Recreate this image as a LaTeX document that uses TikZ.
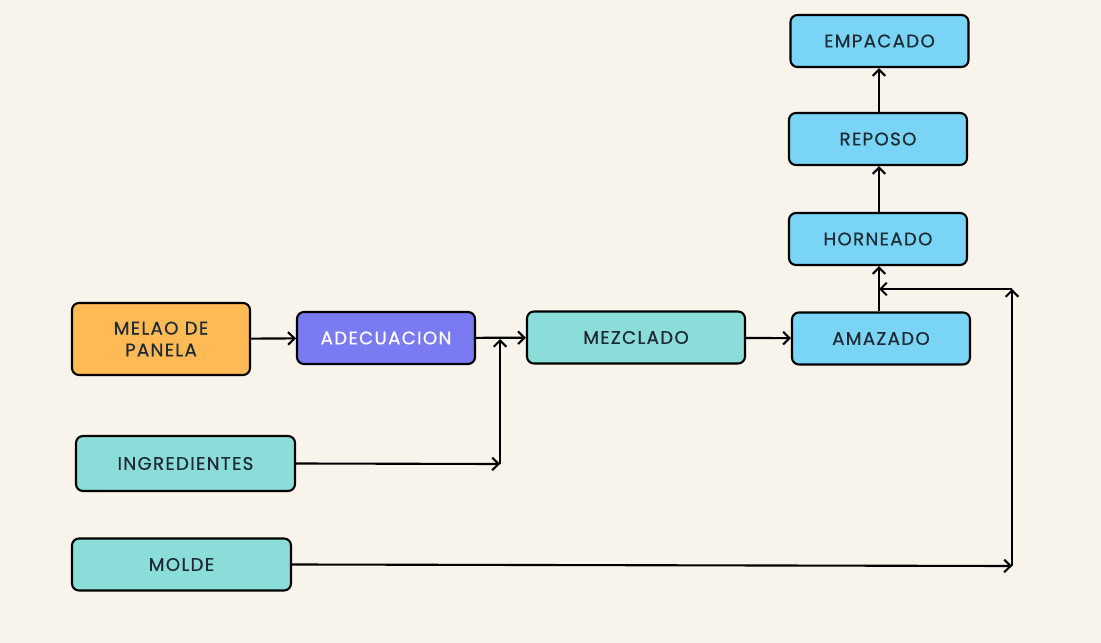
\documentclass[tikz,border=0pt]{standalone}
\usepackage{fontspec}
\setmainfont{Poppins}[LetterSpace=7, FakeBold=0.6]
\usepackage{tikz}
\usetikzlibrary{arrows.meta}
\definecolor{fondo}{HTML}{F8F4EC}
\definecolor{naranja}{HTML}{FFBA55}
\definecolor{morado}{HTML}{7A7BF2}
\definecolor{turquesa}{HTML}{8BDDD9}
\definecolor{celeste}{HTML}{79D4F5}
\definecolor{tinta}{HTML}{1E2B33}

\begin{document}
\begin{tikzpicture}[x=0.025cm, y=-0.025cm,
    caja/.style={draw=black, line width=1.5pt, rounded corners=5pt,
        minimum width=4.45cm, minimum height=1.3cm, align=center,
        font=\fontsize{13}{15.5}\selectfont, text=tinta},
    flecha/.style={draw=black, line width=1.5pt, -{Straight Barb[length=4.5pt, width=9pt]}}]
            \fill[fondo] (0,0) rectangle (1101,643);
            \useasboundingbox (0,0) rectangle (1101,643);
            % cajas
            \node[caja, fill=celeste] (empacado) at (879.5,41) {EMPACADO};
            \node[caja, fill=celeste] (reposo) at (878,139) {REPOSO};
            \node[caja, fill=celeste] (horneado) at (878,239) {HORNEADO};
            \node[caja, fill=celeste] (amazado) at (881,338.5) {AMAZADO};
            \node[caja, fill=turquesa, minimum width=5.45cm] (mezclado) at (636,337.5) {MEZCLADO};
            \node[caja, fill=morado, text=white] (adecuacion) at (386,338) {ADECUACION};
            \node[caja, fill=naranja, minimum height=1.8cm] (melao) at (161,339) {MELAO DE\\PANELA};
            \node[caja, fill=turquesa, minimum width=5.475cm, minimum height=1.375cm] (ingredientes) at (185.5,463.5) {INGREDIENTES};
            \node[caja, fill=turquesa, minimum width=5.475cm] (molde) at (181.5,564.5) {MOLDE};
            % puntos de quiebre
            \coordinate (i1) at (500,464);
            \coordinate (i2) at (500,339);
            \coordinate (m1) at (1012,566);
            \coordinate (m2) at (1012,289);
            \coordinate (m3) at (879,289);
            % flechas
            \draw[flecha] (melao) -- (adecuacion);
            \draw[flecha] (adecuacion) -- (mezclado);
            \draw[flecha] (ingredientes.east) -- (i1);
            \draw[flecha] (i1) -- (i2);
            \draw[flecha] (mezclado) -- (amazado);
            \draw[flecha] (amazado.north -| m3) -- (horneado.south -| m3);
            \draw[flecha] (horneado.north -| m3) -- (reposo.south -| m3);
            \draw[flecha] (reposo.north -| m3) -- (empacado.south -| m3);
            \draw[flecha] (molde.east) -- (m1);
            \draw[flecha] (m1) -- (m2);
            \draw[flecha] (m2) -- (m3);
        \end{tikzpicture}
\end{document}
